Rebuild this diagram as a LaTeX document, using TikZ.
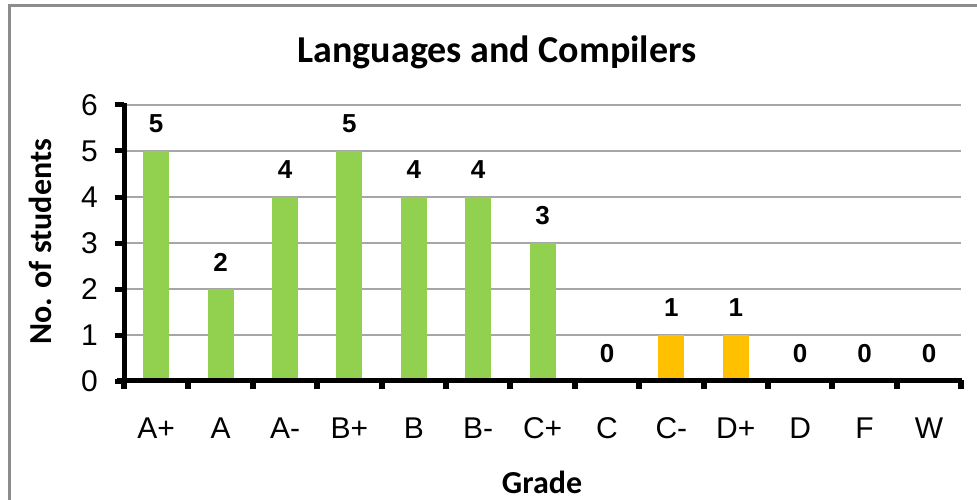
\documentclass[tikz,border=0pt]{standalone}
\usepackage{fontspec}
\setmainfont{Liberation Sans}
\newfontfamily\calib{Carlito}
\definecolor{bargreen}{HTML}{92D050}
\definecolor{barorange}{HTML}{FFC000}
\definecolor{gridgray}{HTML}{A6A6A6}
\definecolor{framegray}{HTML}{8C8C8C}
\tikzset{
  gridline/.style={draw=gridgray, line width=1.5pt},
  axisline/.style={draw=black, line width=5pt},
  ticklab/.style={font=\fontsize{30}{30}\selectfont, inner sep=0pt},
  datalab/.style={font=\fontsize{26}{26}\selectfont\bfseries, inner sep=0pt},
  axtitle/.style={font=\calib\bfseries\fontsize{32}{32}\selectfont, inner sep=0pt},
}
\begin{document}
\begin{tikzpicture}[x=1pt,y=-1pt]
\useasboundingbox (0,0) rectangle (977,500);
% frame
\draw[framegray, line width=2.5pt] (9.5,510) -- (9.5,5.5) -- (980,5.5);
% title
\node[axtitle, font=\calib\bfseries\fontsize{38}{38}\selectfont] (title) at (497,52) {Languages and Compilers};
% gridlines
\foreach \v in {1,...,6} {
  \draw[gridline] (124,{381-46*\v}) -- (961,{381-46*\v});
}
% bars and labels
\foreach \i/\v/\g/\c in {0/5/A+/bargreen,1/2/A/bargreen,2/4/A-/bargreen,3/5/B+/bargreen,4/4/B/bargreen,5/4/B-/bargreen,6/3/C+/bargreen,7/0/C/bargreen,8/1/C-/barorange,9/1/D+/barorange,10/0/D/bargreen,11/0/F/bargreen,12/0/W/bargreen} {
  \pgfmathsetmacro{\xc}{124+32.2+\i*64.4}
  \ifnum\v>0
    \fill[\c] ({\xc-13},381) rectangle ({\xc+13},{381-46*\v});
  \fi
  \node[datalab] (d\i) at (\xc,{381-46*\v-27}) {\v};
  \node[ticklab] (c\i) at (\xc,428) {\g};
}
% axes
\draw[axisline] (124,103) -- (124,383);
\draw[axisline] (117,380.5) -- (962,380.5);
\foreach \v in {0,...,6} {
  \fill (115,{381-46*\v-2.5}) rectangle (124,{381-46*\v+2.5});
  \node[ticklab, anchor=east] (y\v) at (98,{381-46*\v}) {\v};
}
\foreach \i in {0,...,13} {
  \fill ({124+\i*64.4-3},380) rectangle ({124+\i*64.4+3},389);
}
% axis titles
\node[axtitle] (xt) at (542,482) {Grade};
\node[axtitle, rotate=90] (yt) at (40,242) {No. of students};
\end{tikzpicture}
\end{document}
